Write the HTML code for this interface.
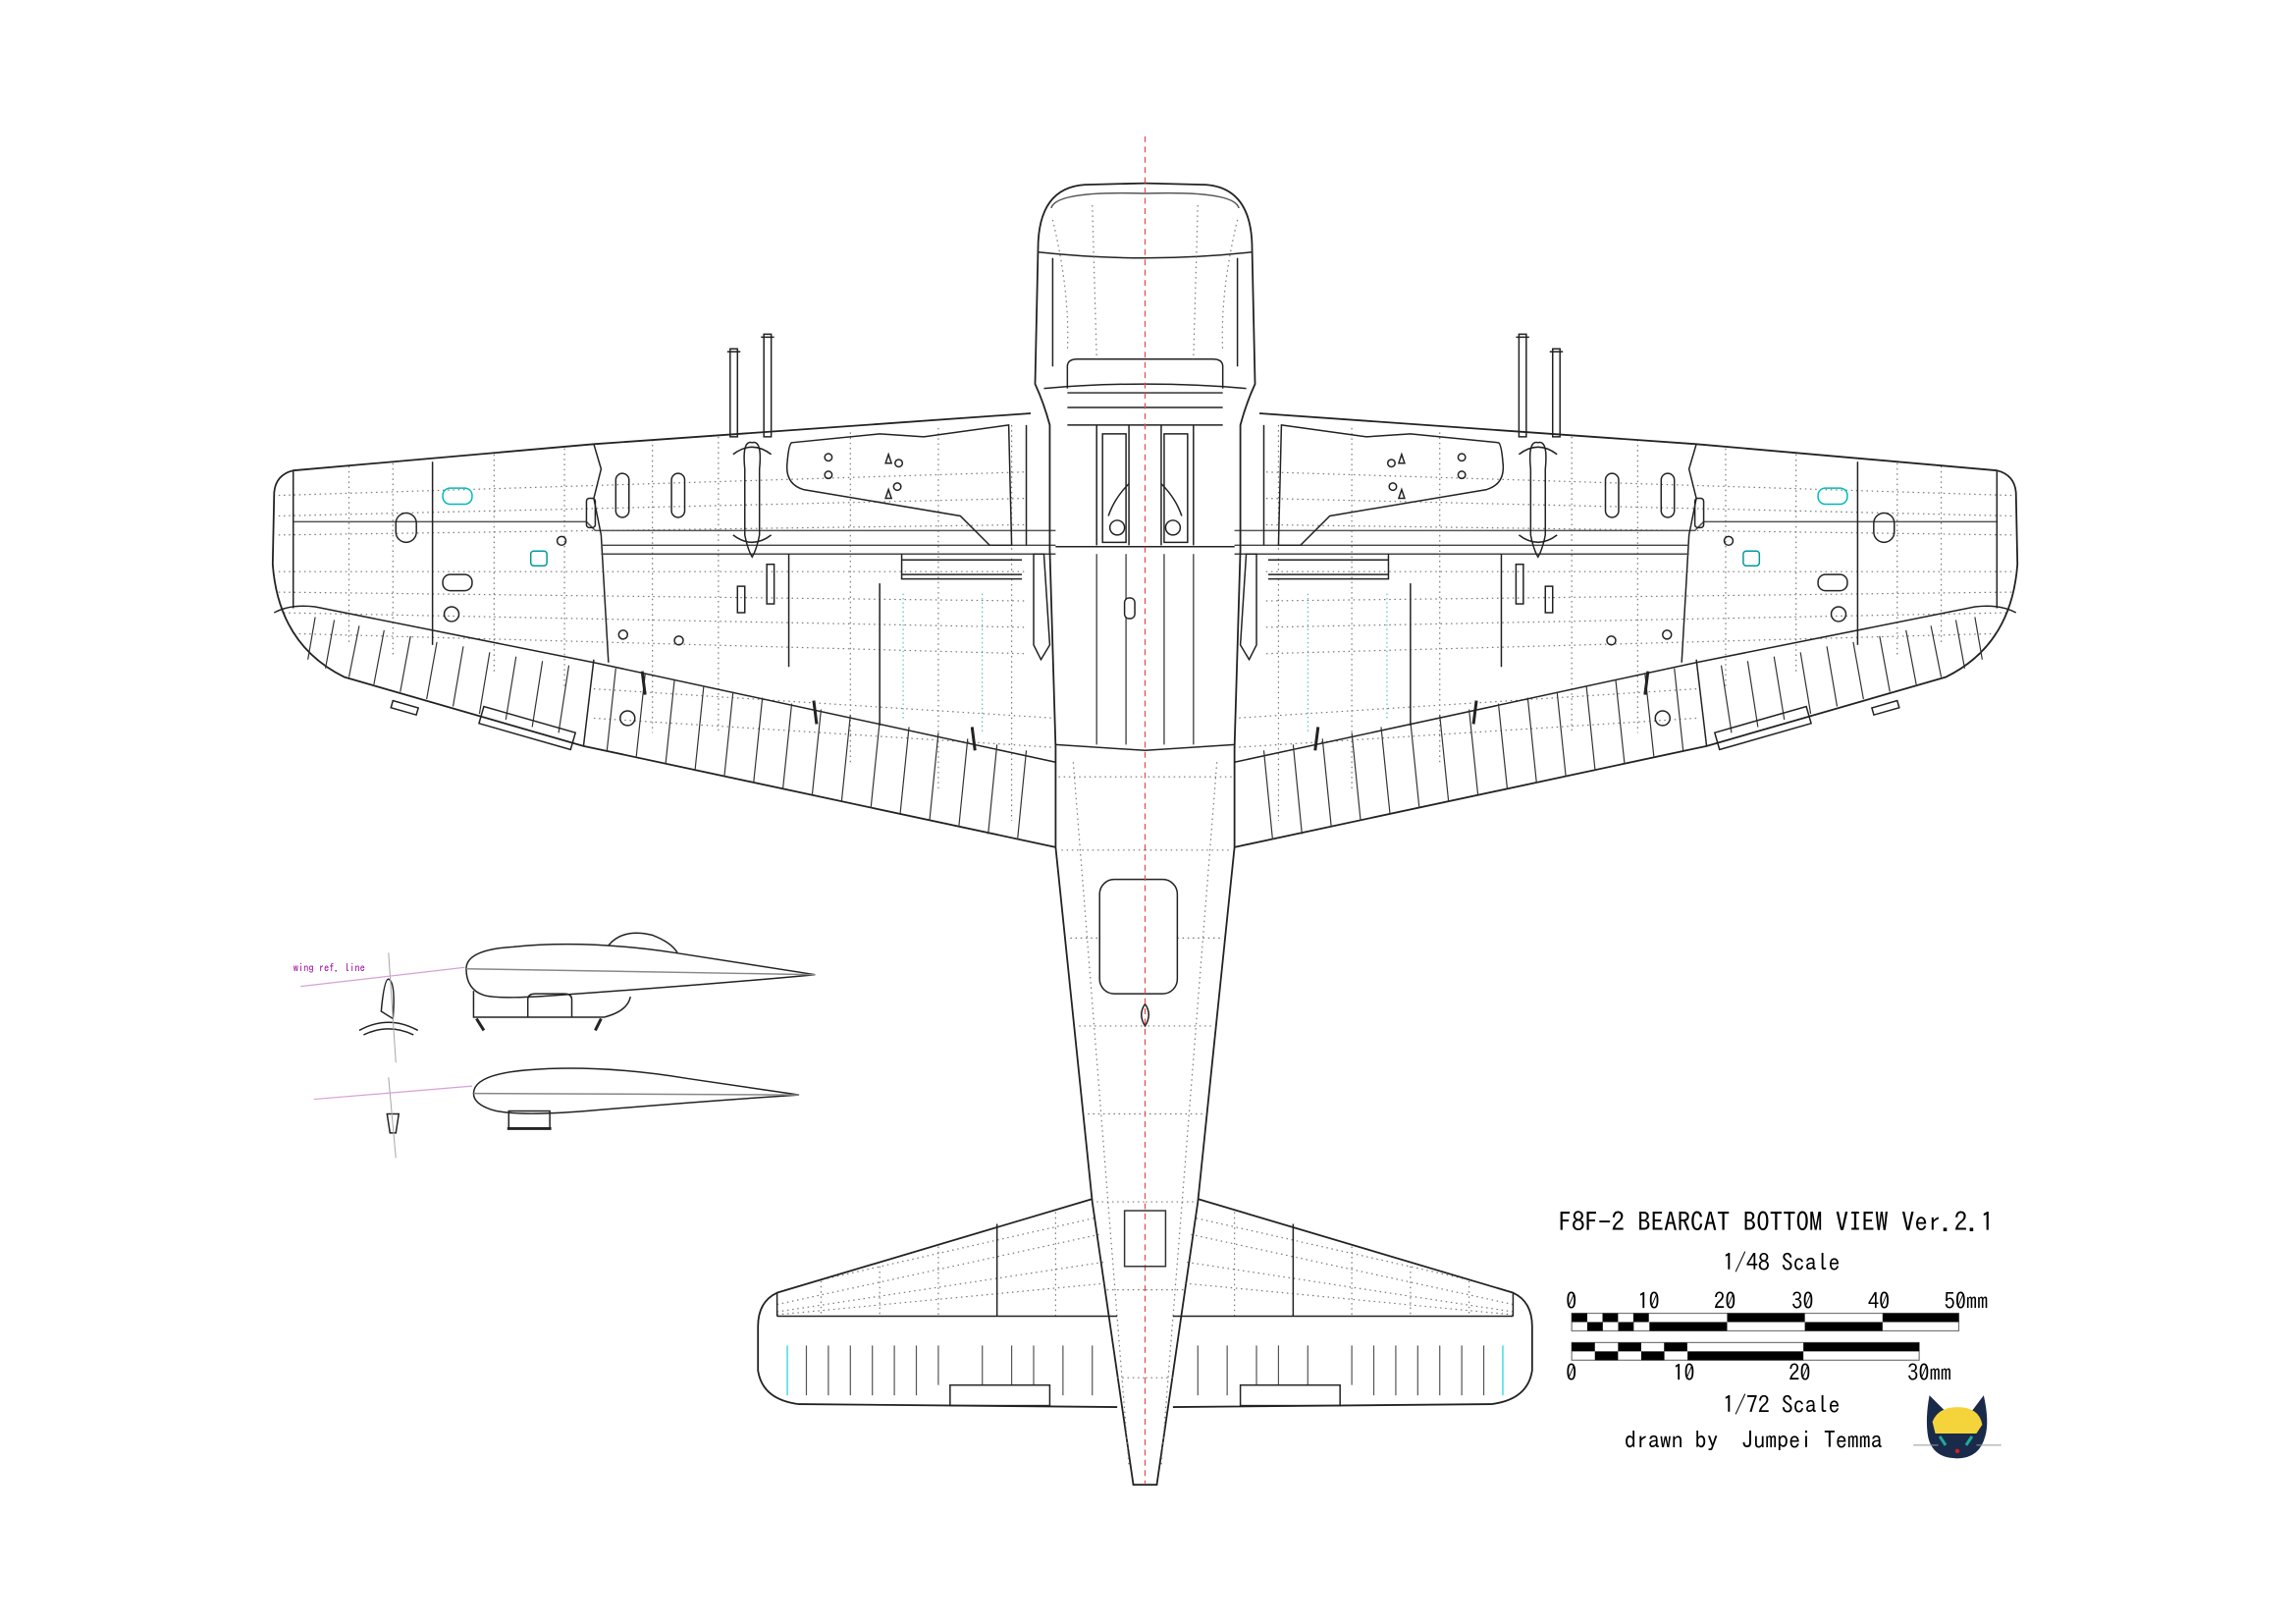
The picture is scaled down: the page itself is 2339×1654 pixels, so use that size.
<!DOCTYPE html>
<html><head><meta charset="utf-8"><style>
html,body{margin:0;padding:0;background:#fff}
svg{display:block}
text{font-family:"IPAGothic","Liberation Mono","Noto Sans CJK JP",monospace;fill:#000}
</style></head><body>
<svg width="2339" height="1654" viewBox="0 0 1566 1108" preserveAspectRatio="none" xmlns="http://www.w3.org/2000/svg">
<defs>
<clipPath id="wingL"><path d="M703,282 L405,303 L200,321 Q188,324 187,336 L186,385 Q190,440 235,462 L398,509 L720,578 L720,282 Z"/></clipPath>
<clipPath id="tailL"><path d="M745,818 L530,882 Q517,888 517,905 L520,898 L760,898 Z"/></clipPath>
<g id="half" fill="none" stroke="#222" stroke-width="1">
  <g clip-path="url(#wingL)" stroke="#777" stroke-width="0.8" stroke-dasharray="1 2.5">
    <path d="M190,338 L700,322 M190,352 L700,340 M190,365 L700,358 M190,390 L700,390 M190,404 L700,410 M190,418 L700,428 M190,432 L700,446 M405,470 L720,490 M405,490 L720,510"/>
    <path d="M238,318 L238,440 M268,316 L268,448 M337,310 L337,460 M385,306 L385,470 M445,300 L445,500 M490,298 L490,500 M580,295 L580,520 M640,292 L640,540 M690,290 L690,560"/>
  </g>
  <path d="M703,282 L405,303 L200,321 Q188,324 187,336 L186,385 Q190,440 235,462 L398,509 L720,578" stroke-width="1.2"/>
  <path d="M187,418 Q198,412 215,414 L405,452"/>
  <path d="M405,452 L720,520"/>
  <path d="M405,450 L398,509"/>
  <path d="M200,356 L400,356 L406,362 L720,362" stroke="#555"/>
  <path d="M200,321 L200,415 M295,315 L295,440 M405,303 L410,320 L405,340 L410,365 L415,452"/>
  <path d="M410,372 L720,372 M410,378 L720,378" stroke="#444"/>
  <g stroke="#333" stroke-width="0.8">
    <path d="M215,421 L210,450 M228,423 L222,456 M245,427 L238,462 M262,430 L255,467 M280,434 L273,472 M298,438 L291,477 M316,441 L309,482 M334,445 L327,487 M352,448 L345,491 M370,451 L363,496 M388,454 L381,500"/>
    <path d="M420,456 L414,512 M440,460 L434,516 M460,464 L454,521 M480,468 L474,526 M500,472 L494,530 M520,476 L514,534 M540,480 L534,538 M560,484 L554,542 M580,488 L574,547 M600,492 L594,551 M620,496 L614,555 M640,500 L634,560 M660,504 L654,564 M680,508 L674,569 M700,512 L694,573"/>
  </g>
  <rect x="330" y="482" width="65" height="12" transform="rotate(16 330 482)"/>
  <rect x="268" y="478" width="18" height="5" transform="rotate(16 268 478)"/>
  <rect x="302" y="333" width="20" height="11" rx="5" stroke="#0bb"/>
  <rect x="270" y="350" width="14" height="20" rx="7"/>
  <rect x="302" y="392" width="20" height="11" rx="5"/>
  <circle cx="308" cy="419" r="5"/>
  <rect x="362" y="376" width="11" height="10" rx="2" stroke="#099"/>
  <circle cx="383" cy="369" r="3"/>
  <rect x="498" y="238" width="5" height="60"/><rect x="521" y="228" width="5" height="70"/>
  <path d="M496,240 L505,240 M519,230 L528,230"/>
  <path d="M540,302 L600,296 L630,298 L688,290 L690,372 L675,372 L655,352 L548,334 Q535,330 537,315 Q538,303 540,302 Z"/>
  <circle cx="565" cy="312" r="2.5"/><circle cx="565" cy="324" r="2.5"/><path d="M604,316 l2,-6 l2,6 Z M604,340 l2,-6 l2,6 Z"/>
  <circle cx="613" cy="316" r="2.5"/><circle cx="612" cy="332" r="2.5"/>
  <path d="M513,302 Q520,300 518,320 L518,365 Q516,375 513,380 Q510,375 508,365 L508,320 Q506,300 513,302 Z"/>
  <path d="M500,310 Q513,300 526,310 M500,365 Q513,375 526,365"/>
  <rect x="420" y="323" width="9" height="30" rx="4.5"/><rect x="458" y="323" width="9" height="30" rx="4.5"/>
  <rect x="400" y="340" width="6" height="20" rx="2"/>
  <path d="M538,378 L538,455 M615,378 L615,395 L697,395 M615,392 L697,392 M615,382 L697,382 M600,398 L600,495"/>
  <rect x="503" y="400" width="5" height="18"/><rect x="523" y="385" width="5" height="27"/>
  <circle cx="425" cy="433" r="3"/><circle cx="463" cy="437" r="3"/>
  <path d="M616,405 L616,490 M670,405 L670,500" stroke="#2aa" stroke-width="0.6" stroke-dasharray="1 2"/>
  <path d="M438,458 L440,474 M555,478 L557,494 M663,496 L665,512" stroke-width="2"/>
  <circle cx="428" cy="490" r="5"/>
  <path d="M705,378 L712,378 L716,440 L710,450 L705,440 Z"/>
  <path d="M781,125 L740,126 Q708,128 708,170 L706,262 Q712,275 716,290 L716,375 L720,510 L720,578 L745,820 L773,1013 L781,1013" stroke-width="1.2"/>
  <path d="M781,132 Q720,130 717,142" stroke="#555"/>
  <path d="M708,172 Q745,176 781,176 M712,265 Q745,262 781,262" />
  <path d="M718,176 L718,250 M728,250 Q728,245 735,245 L781,245 M728,250 L728,265"/>
  <path d="M728,268 L781,268 M728,278 L781,278 M728,290 L781,290"/>
  <path d="M748,290 L748,372 M770,290 L770,372 M752,296 L768,296 L768,370 L752,370 Z"/>
  <path d="M756,352 Q760,340 770,330" />
  <circle cx="762" cy="360" r="5"/>
  <path d="M700,290 L700,372 M720,373 L842,373 M720,508 L781,512"/>
  <path d="M748,378 L748,508 M768,378 L768,508" stroke="#555"/>
  <g stroke="#777" stroke-width="0.8" stroke-dasharray="1 2.5">
    <path d="M722,530 L781,530 M724,580 L781,580 M730,640 L781,640 M736,700 L781,700 M742,760 L781,760 M748,820 L781,820 M755,880 L781,880 M762,940 L781,940"/>
    <path d="M732,520 L770,1000 M718,150 Q730,200 728,240 M745,140 L748,245"/>
  </g>
  <g clip-path="url(#tailL)" stroke="#777" stroke-width="0.8" stroke-dasharray="1 2.5">
    <path d="M530,890 L760,840 M530,880 L760,828 M530,895 L760,860 M530,897 L760,875 M560,860 L560,900 M600,850 L600,900 M640,840 L640,900 M680,830 L680,900 M720,820 L720,900"/>
  </g>
  <path d="M745,818 L530,882 Q517,888 517,905 L517,935 Q520,955 545,958 L762,960" stroke-width="1.2"/>
  <path d="M530,898 L762,898 M530,882 L530,898 M680,835 L680,898"/>
  <g stroke="#555" stroke-width="0.8">
    <path d="M550,918 L550,952 M565,918 L565,952 M580,918 L580,952 M595,918 L595,952 M610,918 L610,952 M625,918 L625,952 M640,918 L640,945 M670,918 L670,945 M690,918 L690,945 M705,918 L705,945 M725,918 L725,952 M745,918 L745,952"/>
  </g>
  <path d="M537,918 L537,952" stroke="#4dd"/>
  <rect x="648" y="945" width="68" height="14"/>
</g>
</defs>
<rect width="1566" height="1108" fill="#fff"/>
<use href="#half"/>
<use href="#half" transform="translate(1562,0) scale(-1,1)"/>
<g fill="#fff" stroke="#222" stroke-width="1">
  <rect x="750" y="600" width="53" height="78" rx="10"/>
  <rect x="767" y="408" width="7" height="14" rx="3"/>
  <path d="M781,685 Q776,692 781,700 Q786,692 781,685 Z"/>
</g>
<line x1="781" y1="93" x2="781" y2="1012" stroke="#e44" stroke-width="0.8" stroke-dasharray="4 3"/>
<rect x="767" y="826" width="28" height="38" fill="none" stroke="#333"/>
<g fill="none" stroke="#222" stroke-width="1">
  <path d="M318,661 Q318,648 350,646 Q400,641 460,650 L556,665 Q480,672 380,679 Q340,682 330,679 Q318,675 318,661 Z"/>
  <path d="M318,661 L556,665" stroke="#888"/>
  <path d="M415,645 Q425,633 445,638 Q458,643 462,650"/>
  <path d="M323,676 L323,694 L412,694 Q428,690 430,680 M360,694 L360,682 Q360,678 365,678 L385,678 Q390,678 390,682 L390,694"/>
  <path d="M325,695 l5,8 M410,695 l-4,8" stroke-width="2"/>
  <path d="M323,746 Q323,733 360,730 Q410,726 470,736 L545,747 Q470,752 400,758 Q350,762 335,757 Q323,753 323,746 Z"/>
  <path d="M323,746 L545,747" stroke="#888"/>
  <rect x="347" y="758" width="28" height="12"/><path d="M346,770 L376,770" stroke-width="2"/>
  <path d="M260,690 Q262,668 265,668 Q270,670 268,695 Z"/>
  <path d="M245,703 Q265,692 285,703 M248,706 Q265,698 282,706"/>
  <path d="M264,760 L272,760 L270,773 L266,773 Z" />
</g>
<g stroke="#aaa" stroke-width="0.7" fill="none">
  <path d="M265,650 L270,725 M265,735 L270,790"/>
</g>
<g stroke="#d8a0d8" stroke-width="0.8">
  <line x1="205" y1="673" x2="317" y2="660"/>
  <line x1="214" y1="750" x2="322" y2="741"/>
</g>
<text x="200" y="663" font-size="7" style="fill:#909">wing ref. line</text>
<text x="1063" y="840" font-size="18">F8F-2 BEARCAT BOTTOM VIEW Ver.2.1</text>
<text x="1215" y="867" font-size="16" text-anchor="middle">1/48 Scale</text>
<g font-size="15">
<text x="1068" y="893">0</text><text x="1117" y="893">10</text><text x="1169" y="893">20</text><text x="1222" y="893">30</text><text x="1274" y="893">40</text><text x="1326" y="893">50mm</text>
<text x="1068" y="942">0</text><text x="1141" y="942">10</text><text x="1220" y="942">20</text><text x="1301" y="942">30mm</text>
</g>
<g>
  <rect x="1072" y="896" width="264" height="12" fill="#fff" stroke="#777" stroke-width="0.8"/>
  <g fill="#000">
    <rect x="1072" y="896" width="10.6" height="6"/><rect x="1093" y="896" width="10.6" height="6"/><rect x="1114" y="896" width="10.6" height="6"/>
    <rect x="1082.6" y="902" width="10.6" height="6"/><rect x="1103.7" y="902" width="10.6" height="6"/>
    <rect x="1125" y="902" width="53" height="6"/><rect x="1178" y="896" width="53" height="6"/><rect x="1231" y="902" width="53" height="6"/><rect x="1284" y="896" width="52" height="6"/>
  </g>
  <rect x="1072" y="916" width="237" height="12" fill="#fff" stroke="#777" stroke-width="0.8"/>
  <g fill="#000">
    <rect x="1072" y="916" width="15.8" height="6"/><rect x="1103.6" y="916" width="15.8" height="6"/><rect x="1135" y="916" width="15.8" height="6"/>
    <rect x="1087.8" y="922" width="15.8" height="6"/><rect x="1119.4" y="922" width="15.8" height="6"/>
    <rect x="1151" y="922" width="79" height="6"/><rect x="1230" y="916" width="79" height="6"/>
  </g>
</g>
<text x="1215" y="964" font-size="16" text-anchor="middle">1/72 Scale</text>
<text x="1108" y="988" font-size="16" xml:space="preserve">drawn by  Jumpei Temma</text>
<g>
  <path d="M1316,952 L1328,964 Q1336,961 1344,964 L1353,952 Q1357,970 1354,980 Q1350,995 1335,995 Q1318,995 1315,980 Q1313,968 1316,952 Z" fill="#1a2a4a"/>
  <path d="M1318,970 Q1322,960 1335,960 Q1350,960 1352,972 L1348,978 L1320,978 Z" fill="#f4d43a"/>
  <path d="M1323,980 l4,6 M1345,980 l-4,6" stroke="#2a9" stroke-width="2"/>
  <path d="M1305,986 L1322,986 M1348,986 L1365,986" stroke="#999" stroke-width="0.6"/>
  <circle cx="1335" cy="990" r="1.5" fill="#c22"/>
</g>
</svg>
</body></html>
